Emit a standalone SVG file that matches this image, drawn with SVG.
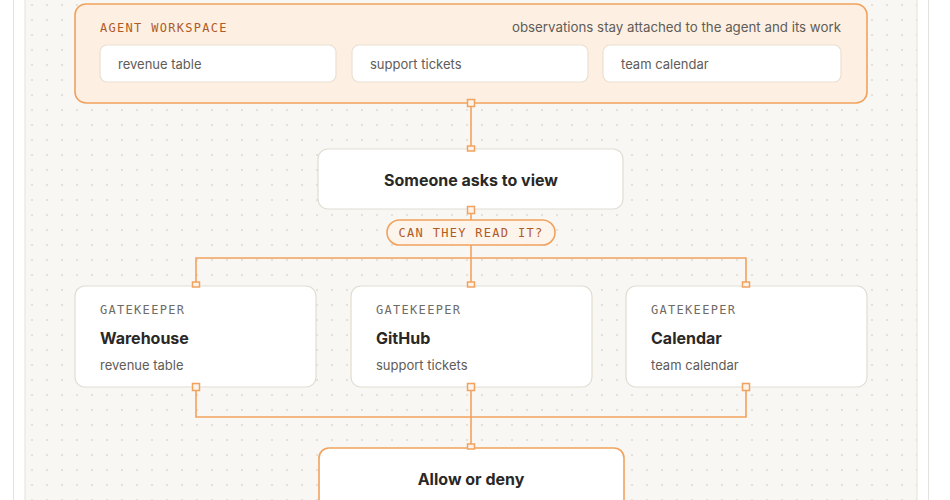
<svg xmlns="http://www.w3.org/2000/svg" width="950" height="500" viewBox="0 0 950 500">
<defs>
<pattern id="dots" patternUnits="userSpaceOnUse" x="0" y="0" width="15" height="15">
<circle cx="2" cy="5" r="0.9" fill="#dcd6cc"/>
</pattern>
<style>
.mono{font-family:"DejaVu Sans Mono","Liberation Mono",monospace;font-size:12px;letter-spacing:1.3px}
.sans{font-family:Inter,"Liberation Sans",sans-serif}
.card{fill:#ffffff;stroke:#e2ddd3;stroke-width:1.2}
.chip{fill:#ffffff;stroke:#eadfd2;stroke-width:1.2}
.wire{fill:none;stroke:#f1a25e;stroke-width:1.6}
.port{fill:#fdf3ea;stroke:#f1a25e;stroke-width:1.5}
.small{font-size:13px;fill:#605c57}
.title{font-size:16px;font-weight:700;fill:#2a2826}
.kicker{fill:#6f6c68}
.accent{fill:#b05a26}
</style>
</defs>
<rect x="0" y="0" width="950" height="500" fill="#ffffff"/>
<rect x="13.5" y="-5" width="915" height="520" fill="#ffffff" stroke="#e4e2de" stroke-width="1"/>
<rect x="25" y="-5" width="892" height="520" fill="#f9f7f3" stroke="#e6e2da" stroke-width="1"/>
<rect x="25" y="-5" width="892" height="520" fill="url(#dots)"/>

<g id="agent-workspace">
<rect x="75" y="4" width="792" height="99" rx="11" fill="#fdf0e3" stroke="#f1a25e" stroke-width="1.6"/>
<text x="100" y="32" class="mono accent">AGENT WORKSPACE</text>
<text x="841" y="32" class="sans small" style="font-size:13.3px" text-anchor="end">observations stay attached to the agent and its work</text>
<g id="ws-revenue"><rect x="100" y="45" width="236" height="37" rx="7" class="chip"/><text x="118" y="69" class="sans small">revenue table</text></g>
<g id="ws-support"><rect x="352" y="45" width="236" height="37" rx="7" class="chip"/><text x="370" y="69" class="sans small">support tickets</text></g>
<g id="ws-calendar"><rect x="603" y="45" width="238" height="37" rx="7" class="chip"/><text x="621" y="69" class="sans small">team calendar</text></g>
</g>

<g id="connectors">
<path class="wire" d="M471 103 V150"/>
<path class="wire" d="M471 210 V286"/>
<path class="wire" d="M196 286 V258 H746 V286"/>
<path class="wire" d="M196 387 V417 H746 V387"/>
<path class="wire" d="M471 387 V448"/>
</g>

<g id="someone-asks">
<rect x="318" y="149" width="305" height="60" rx="10" class="card"/>
<text x="471" y="186" class="sans title" text-anchor="middle">Someone asks to view</text>
</g>

<g id="can-they-read">
<rect x="387" y="220" width="168" height="25" rx="12.5" fill="#fdf4ec" stroke="#f1a25e" stroke-width="1.6"/>
<text x="471" y="237" class="mono accent" text-anchor="middle">CAN THEY READ IT?</text>
</g>

<g id="gk-warehouse">
<rect x="75" y="286" width="241" height="101" rx="10" class="card"/>
<text x="100" y="314" class="mono kicker">GATEKEEPER</text>
<text x="100" y="344" class="sans title">Warehouse</text>
<text x="100" y="370" class="sans small">revenue table</text>
</g>
<g id="gk-github">
<rect x="351" y="286" width="241" height="101" rx="10" class="card"/>
<text x="376" y="314" class="mono kicker">GATEKEEPER</text>
<text x="376" y="344" class="sans title">GitHub</text>
<text x="376" y="370" class="sans small">support tickets</text>
</g>
<g id="gk-calendar">
<rect x="626" y="286" width="241" height="101" rx="10" class="card"/>
<text x="651" y="314" class="mono kicker">GATEKEEPER</text>
<text x="651" y="344" class="sans title">Calendar</text>
<text x="651" y="370" class="sans small">team calendar</text>
</g>

<g id="allow-deny">
<rect x="319" y="448" width="305" height="70" rx="10" fill="#ffffff" stroke="#f1a25e" stroke-width="1.6"/>
<text x="471" y="485" class="sans title" text-anchor="middle">Allow or deny</text>
</g>

<g id="ports">
<rect x="467.5" y="99.5" width="7" height="7" class="port"/>
<rect x="467.5" y="146" width="7" height="5" class="port"/>
<rect x="467.5" y="206.5" width="7" height="7" class="port"/>
<rect x="192.5" y="282" width="7" height="5" class="port"/>
<rect x="467.5" y="282" width="7" height="5" class="port"/>
<rect x="742.5" y="282" width="7" height="5" class="port"/>
<rect x="192.5" y="383.5" width="7" height="7" class="port"/>
<rect x="467.5" y="383.5" width="7" height="7" class="port"/>
<rect x="742.5" y="383.5" width="7" height="7" class="port"/>
<rect x="467.5" y="444" width="7" height="5" class="port"/>
</g>
</svg>
